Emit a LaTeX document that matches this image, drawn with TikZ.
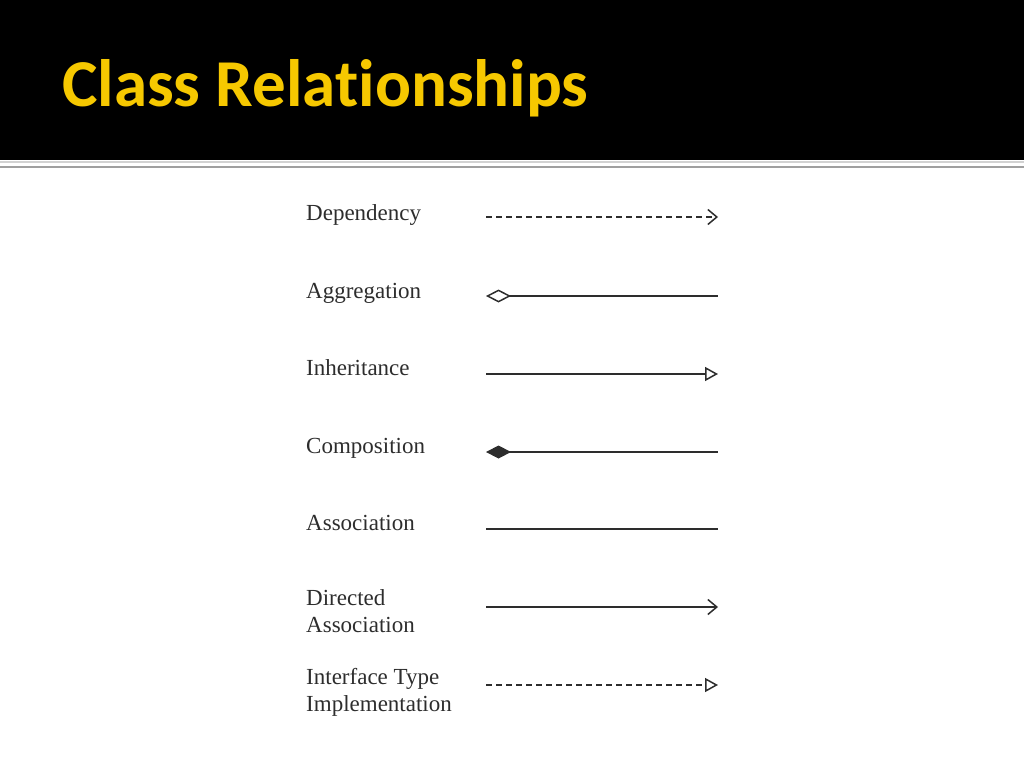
\documentclass[tikz,border=0pt]{standalone}
\usepackage{fontspec}
\setmainfont{Liberation Serif}
\newfontfamily\titlefont[Ligatures=NoCommon]{Carlito}
\usetikzlibrary{arrows.meta}
\definecolor{titleyellow}{RGB}{246,200,0}
\definecolor{inkgray}{RGB}{45,45,45}

\begin{document}
\begin{tikzpicture}[x=1pt, y=-1pt,
    rellabel/.style={anchor=base west, align=left, inner sep=0pt,
        font=\fontsize{23}{26.5}\selectfont, text=inkgray},
    rel/.style={line width=1.5pt, draw=inkgray},
    dep/.style={rel, dash pattern=on 6pt off 4pt,
        -{Straight Barb[length=9pt, width=15pt, line width=1.5pt]}},
    agg/.style={rel, {Diamond[open, length=25pt, width=13pt, line width=1.5pt]}-},
    inh/.style={rel, -{Triangle[open, length=13pt, width=14pt, line width=1.5pt]}},
    comp/.style={rel, {Diamond[length=25pt, width=13pt]}-},
    assoc/.style={rel},
    dirassoc/.style={rel, -{Straight Barb[length=9pt, width=15pt, line width=1.5pt]}},
    impl/.style={rel, dash pattern=on 6pt off 4pt,
        -{Triangle[open, length=13pt, width=14pt, line width=1.5pt]}}]
    \useasboundingbox (0,0) rectangle (1024,768);
    % Title bar
    \fill[black] (0,0) rectangle (1024,160);
    \draw[gray!35, line width=2pt] (0,162) -- (1024,162);
    \draw[gray!75, line width=2.5pt] (0,167) -- (1024,167);
    \node[anchor=base west, inner sep=0pt, text=titleyellow,
        font=\titlefont\bfseries\fontsize{67}{72}\selectfont]
        (Title) at (62,106) {Class Relationships};
    % Relationships (label baseline is the last line)
    \foreach \i/\y/\ty/\name/\kind in {
        1/217/220/Dependency/dep,
        2/296/298/Aggregation/agg,
        3/374/375/Inheritance/inh,
        4/452/453/Composition/comp,
        5/529/530/Association/assoc,
        6/607/632/{Directed\\Association}/dirassoc,
        7/685/711/{Interface Type\\Implementation}/impl} {
        \node[rellabel] (Label-\i) at (306,\ty) {\name};
        \coordinate (Start-\i) at (486,\y);
        \coordinate (End-\i) at (718,\y);
        \draw[\kind] (Start-\i) -- (End-\i);
    }
\end{tikzpicture}
\end{document}
